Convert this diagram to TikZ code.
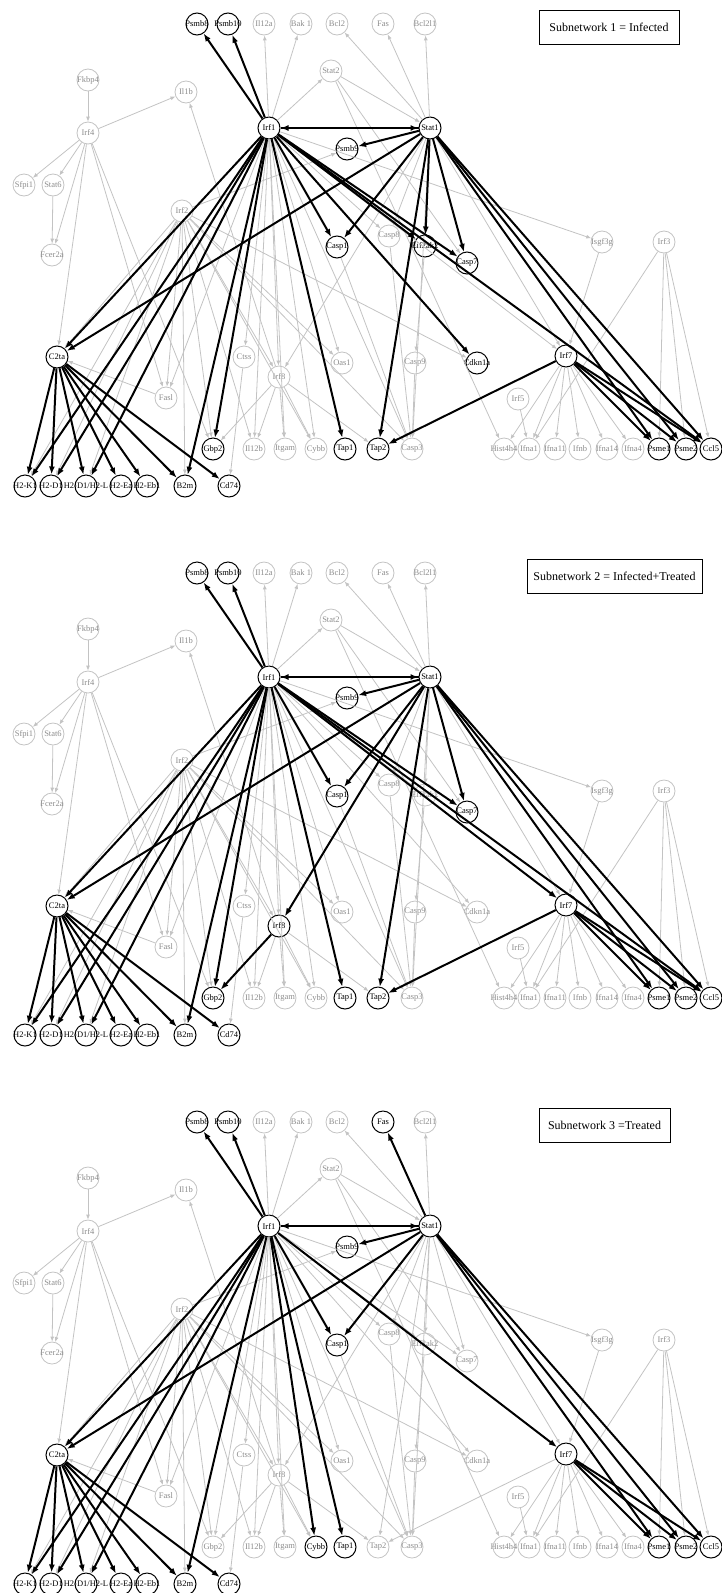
\documentclass[tikz,border=0pt]{standalone}
\usepackage{fontspec}
\setmainfont{Liberation Serif}
\usetikzlibrary{arrows.meta}

\definecolor{faint}{RGB}{195,195,195}
\definecolor{faintink}{RGB}{140,140,140}

\tikzset{
	gene/.style={circle, draw=faint, line width=0.8pt, minimum size=22pt, inner sep=0pt,
		text=faintink, font=\fontsize{8.5}{9}\selectfont},
	hub/.style={gene, draw=black, text=black, line width=1pt},
	weak/.style={draw=faint, line width=0.8pt, -{Latex[length=5pt,width=4pt]}},
	strong/.style={draw=black, line width=2pt, -{Latex[length=8pt,width=6pt]}},
	keybox/.style={draw, line width=0.8pt, minimum height=34pt, inner sep=0pt,
		font=\fontsize{12}{14}\selectfont}
}

% name/x/y/label, y measured from the top of one subnetwork
\newcommand\genes{Psmb8/197/24/Psmb8, Psmb10/228/24/Psmb10, Il12a/264/24/Il12a,
	Bak1/301/24/{Bak 1}, Bcl2/337/24/Bcl2, Fas/383/24/Fas, Bcl2l1/425/24/Bcl2l1,
	Stat2/331/71/Stat2, Fkbp4/88/80/Fkbp4, Il1b/186/92/Il1b, Irf1/269/128/Irf1,
	Stat1/430/128/Stat1, Irf4/88/133/Irf4, Psmb9/347/149/Psmb9, Sfpi1/24/185/Sfpi1,
	Stat6/53/185/Stat6, Irf2/182/211/Irf2, Fcer2a/52/255/Fcer2a, Casp1/337/247/Casp1,
	Casp8/389/236/Casp8, Eif2ak2/425/246/Eif2ak2, Casp7/467/263/Casp7,
	Isgf3g/602/242/Isgf3g, Irf3/664/242/Irf3, C2ta/57/357/C2ta, Ctss/244/357/Ctss,
	Oas1/342/363/Oas1, Irf8/279/377/Irf8, Fasl/166/398/Fasl, Casp9/415/363/Casp9,
	Cdkn1a/477/363/Cdkn1a, Irf7/566/356/Irf7, Irf5/518/399/Irf5, Gbp2/213/449/Gbp2,
	Il12b/254/449/Il12b, Itgam/285/449/Itgam, Cybb/316/449/Cybb, Tap1/345/449/Tap1,
	Tap2/378/449/Tap2, Casp3/412/449/Casp3, Hist4h4/504/449/Hist4h4,
	Ifna1/529/449/Ifna1, Ifna11/555/449/Ifna11, Ifnb/580/449/Ifnb,
	Ifna14/607/449/Ifna14, Ifna4/633/449/Ifna4, Psme1/659/449/Psme1,
	Psme2/686/449/Psme2, Ccl5/711/449/Ccl5, H2K1/25/486/H2-K1, H2D1/51/486/H2-D1,
	H2DL/86/486/{H2-D1/H2-L}, H2Ea/121/486/H2-Ea, H2Eb1/147/486/H2-Eb1,
	B2m/185/486/B2m, Cd74/229/486/Cd74}

% the whole network, grey
\newcommand\links{Fkbp4/Irf4, Irf4/Il1b, Irf4/Sfpi1, Irf4/Stat6, Irf4/Fcer2a,
	Stat6/Fcer2a, Irf4/C2ta, Irf4/Fasl, Irf4/Gbp2,
	Irf1/Il12a, Irf1/Bak1, Irf1/Stat2, Irf1/Isgf3g, Irf1/Ctss, Irf1/Il12b, Irf1/Itgam,
	Irf1/Cybb, Irf1/Oas1, Irf1/Casp8, Irf1/Irf8, Irf1/Casp3, Irf1/Irf7, Irf1/Cdkn1a,
	Irf1/Eif2ak2, Irf1/Casp7, Irf1/Gbp2, Irf1/Fasl,
	Stat1/Fas, Stat1/Bcl2l1, Stat1/Bcl2, Stat1/Irf8, Stat1/Casp3, Stat1/Casp8,
	Stat1/Irf7, Stat1/Tap2, Stat1/Eif2ak2, Stat1/Casp7,
	Stat2/Stat1, Stat2/Casp7, Stat2/Hist4h4,
	Irf2/Psmb9, Irf2/C2ta, Irf2/H2K1, Irf2/H2D1, Irf2/H2DL, Irf2/B2m, Irf2/Fasl,
	Irf2/Gbp2, Irf2/Il12b, Irf2/Irf8, Irf2/Oas1, Irf2/Cdkn1a, Irf2/Casp3, Irf2/Cybb,
	Irf8/Il1b, Irf8/Gbp2, Irf8/Il12b, Irf8/Itgam, Irf8/Cybb, Irf8/Tap2,
	Ctss/Cd74, Fasl/C2ta, Casp1/Casp3, Casp8/Casp3, Eif2ak2/Casp9, Casp9/Casp3,
	Isgf3g/Irf7, Irf3/Ifna1, Irf3/Psme1, Irf3/Psme2, Irf3/Ccl5, Irf5/Ifna1,
	Irf7/Tap2, Irf7/Hist4h4, Irf7/Ifna1, Irf7/Ifna11, Irf7/Ifnb, Irf7/Ifna14, Irf7/Ifna4}

% black in every subnetwork
\newcommand\boldall{Irf1/Psmb8, Irf1/Psmb10, Irf1/Stat1, Stat1/Irf1, Stat1/Psmb9,
	Irf1/Casp1, Stat1/Casp1, Irf1/C2ta, Stat1/C2ta, Irf1/H2K1, Irf1/H2D1, Irf1/H2DL,
	Irf1/B2m, Irf1/Tap1, Stat1/Psme1, Stat1/Psme2, Stat1/Ccl5, Irf7/Psme1,
	Irf7/Psme2, Irf7/Ccl5, C2ta/H2K1, C2ta/H2D1, C2ta/H2DL, C2ta/H2Ea, C2ta/H2Eb1,
	C2ta/B2m, C2ta/Cd74}

\begin{document}
\begin{tikzpicture}[x=1pt,y=-1pt]
	\useasboundingbox (0,0) rectangle (721,1593);
	% #1 id, #2 vertical offset, #3 black genes, #4 extra black links, #5/#6 key x/width, #7 key text
	\newcommand\subnet[7]{
		\foreach \n in {#3} {\expandafter\gdef\csname dark#1\n\endcsname{}}
		\foreach \n/\x/\y/\t in \genes {
			\ifcsname dark#1\n\endcsname \tikzset{look/.style=hub}\else \tikzset{look/.style=gene}\fi
			\node[look] (n#1\n) at (\x,\y+#2) {\makebox[0pt]{\t}};
		}
		\foreach \a/\b in \links {\draw[weak] (n#1\a) -- (n#1\b);}
		\foreach \a/\b in \boldall {\draw[strong] (n#1\a) -- (n#1\b);}
		\foreach \a/\b in {#4} {\draw[strong] (n#1\a) -- (n#1\b);}
		\node[keybox, minimum width=#6pt] (key#1) at (#5,27+#2) {#7};
	}
	\subnet{1}{0}{Psmb8,Psmb10,Irf1,Stat1,Psmb9,Casp1,Eif2ak2,Casp7,Cdkn1a,C2ta,Irf7,
		Gbp2,Tap1,Tap2,Psme1,Psme2,Ccl5,H2K1,H2D1,H2DL,H2Ea,H2Eb1,B2m,Cd74}
		{Irf1/Eif2ak2, Stat1/Eif2ak2, Irf1/Casp7, Stat1/Casp7, Irf1/Cdkn1a, Irf1/Gbp2,
		Stat1/Tap2, Irf7/Tap2, Irf1/Ccl5}
		{609}{140}{Subnetwork 1 = Infected}
	\subnet{2}{549}{Psmb8,Psmb10,Irf1,Stat1,Psmb9,Casp1,Casp7,C2ta,Irf8,Irf7,Gbp2,
		Tap1,Tap2,Psme1,Psme2,Ccl5,H2K1,H2D1,H2DL,H2Ea,H2Eb1,B2m,Cd74}
		{Irf1/Casp7, Stat1/Casp7, Irf1/Irf7, Irf1/Ccl5, Irf1/Gbp2, Stat1/Irf8,
		Irf8/Gbp2, Stat1/Tap2, Irf7/Tap2}
		{614.5}{175}{Subnetwork 2 = Infected+Treated}
	\subnet{3}{1098}{Psmb8,Psmb10,Fas,Irf1,Stat1,Psmb9,Casp1,C2ta,Irf7,Cybb,Tap1,
		Psme1,Psme2,Ccl5,H2K1,H2D1,H2DL,H2Ea,H2Eb1,B2m,Cd74}
		{Stat1/Fas, Irf1/Irf7, Irf1/Cybb}
		{604.5}{131}{Subnetwork 3 =Treated}
\end{tikzpicture}
\end{document}
